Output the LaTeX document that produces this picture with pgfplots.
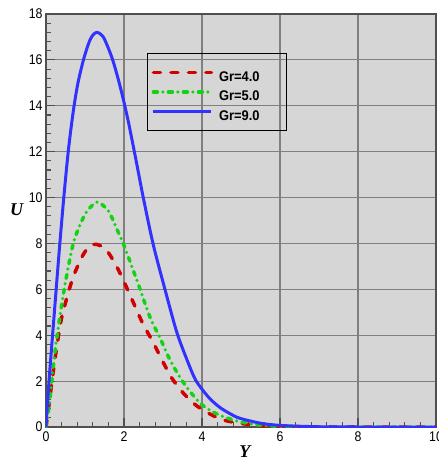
\documentclass[border=0pt]{standalone}
\usepackage{fontspec}
\setmainfont{Liberation Sans}
\newfontfamily\tickfont[FakeStretch=0.88]{Liberation Sans}
\newfontfamily\legfont[FakeStretch=0.92]{Liberation Sans}
\newfontfamily\labfont{Liberation Serif}
\usepackage{pgfplots}
\pgfplotsset{compat=1.18}

\definecolor{bgcol}{RGB}{214,214,214}
\definecolor{gridcol}{RGB}{128,128,128}
\definecolor{framecol}{RGB}{80,80,80}
\definecolor{cred}{RGB}{210,0,0}
\definecolor{cgreen}{RGB}{20,210,20}
\definecolor{cblue}{RGB}{50,50,255}

\begin{document}
\begin{tikzpicture}
\begin{axis}[
  scale only axis,
  width=390pt, height=413pt,
  xmin=0, xmax=10, ymin=0, ymax=18,
  xtick={0,2,...,10}, ytick={0,2,...,18},
  minor tick num=4,
  tick align=inside, tick pos=left,
  major tick length=9pt, minor tick length=5pt,
  every tick/.style={framecol, line width=1.1pt},
  grid=major,
  major grid style={gridcol, line width=1.2pt},
  axis background/.style={fill=bgcol},
  axis line style={framecol, line width=2pt},
  /pgf/number format/assume math mode=true,
  tick label style={font=\tickfont\fontsize{14}{14}\selectfont},
  xticklabel style={yshift=-1pt},
  xlabel={Y}, ylabel={U},
  every axis x label/.style={at={(axis description cs:0.51,0)}, yshift=-25pt, anchor=center,
    font=\labfont\bfseries\itshape\fontsize{18}{18}\selectfont},
  every axis y label/.style={at={(axis description cs:-0.0756,0.525)}, anchor=center,
    font=\labfont\bfseries\itshape\fontsize{18}{18}\selectfont},
  legend image code/.code={\draw[#1] (0pt,0pt) -- (58pt,0pt);},
  legend style={at={(rel axis cs:0.2597,0.9048)}, anchor=north west,
    draw=black, line width=0.8pt, fill=none,
    inner xsep=4pt, inner ysep=9pt, row sep=0pt,
    font=\legfont\bfseries\fontsize{14}{14}\selectfont,
    nodes={inner sep=1pt, text height=17.5pt, text depth=0pt},
    /tikz/every odd column/.append style={column sep=5pt},
    cells={anchor=west}},
]
\coordinate (bl) at (rel axis cs:0,0);
\coordinate (tr) at (rel axis cs:1,1);

% Gr = 4.0
\addplot[cred, line width=3.5pt, line cap=round, dash pattern=on 7pt off 10.5pt, smooth]
coordinates {
(0,0) (0.085,1.07) (0.15,1.94) (0.23,2.96) (0.32,3.97) (0.40,4.75) (0.53,5.6)
(0.70,6.55) (0.91,7.37) (1.05,7.75) (1.21,7.96) (1.40,7.9) (1.60,7.6) (1.85,6.87)
(2.07,6.07) (2.28,5.27) (2.49,4.48) (2.75,3.68) (2.95,3.0) (3.22,2.15) (3.52,1.48)
(3.86,0.93) (4.29,0.49) (4.63,0.27) (5.15,0.12) (5.6,0.05) (6.5,0.01) (8,0) (10,0)
};
\addlegendentry{\makebox[62pt][l]{Gr=4.0}}

% Gr = 5.0
\addplot[cgreen, line width=3.5pt, line cap=round, dash pattern=on 4pt off 5.5pt on 0pt off 5.5pt, smooth]
coordinates {
(0,0) (0.05,0.55) (0.10,1.2) (0.19,2.67) (0.27,3.8) (0.40,5.3) (0.53,6.6) (0.70,8.0)
(0.87,8.8) (1.05,9.4) (1.30,9.8) (1.50,9.6) (1.64,9.3) (1.85,8.5) (1.98,8.0)
(2.33,6.4) (2.67,4.77) (2.92,3.9) (3.14,3.06) (3.40,2.26) (3.65,1.64) (3.99,0.98)
(4.38,0.57) (4.67,0.38) (4.97,0.23) (5.4,0.1) (6,0.03) (7,0) (10,0)
};
\addlegendentry{\makebox[62pt][l]{Gr=5.0}}

% Gr = 9.0
\addplot[cblue, line width=3pt, smooth]
coordinates {
(0,0) (0.06,1.6) (0.15,3.6) (0.27,6.2) (0.35,7.9) (0.43,9.5) (0.50,10.8) (0.57,12.0)
(0.64,13.0) (0.72,14.0) (0.82,15.0) (0.96,16.0) (1.10,16.75) (1.20,17.08) (1.30,17.2)
(1.40,17.12) (1.50,16.9) (1.70,16.05) (1.90,14.85) (2.10,13.4) (2.30,11.7) (2.50,9.95)
(2.75,7.95) (3.05,6.0) (3.35,4.15) (3.61,2.95) (3.82,2.1) (4.0,1.65) (4.21,1.22)
(4.46,0.85) (4.72,0.58) (4.97,0.38) (5.49,0.17) (6.0,0.07) (7,0.01) (8,0) (10,0)
};
\addlegendentry{\makebox[62pt][l]{Gr=9.0}}
\end{axis}
\pgfresetboundingbox
\path[use as bounding box] ([xshift=-46pt,yshift=-39pt]bl) rectangle ([xshift=3pt,yshift=14pt]tr);
\end{tikzpicture}
\end{document}
